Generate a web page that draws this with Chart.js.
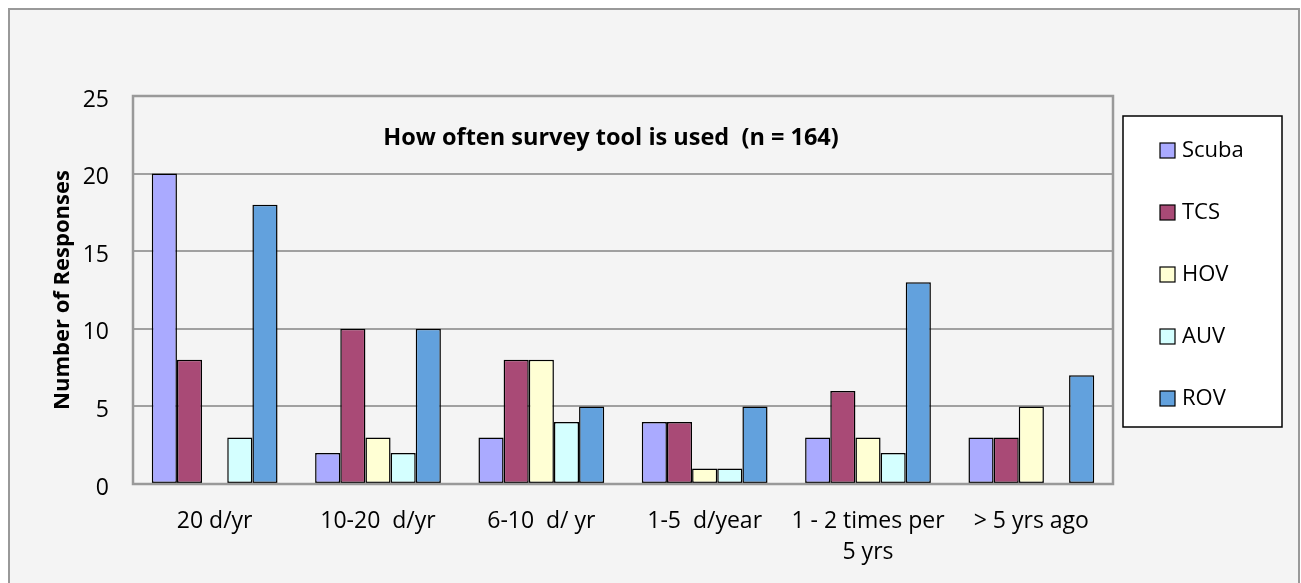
<!DOCTYPE html>
<html lang="en">
<head>
    <meta charset="UTF-8">
    <title>How often survey tool is used</title>
    <script src="https://cdn.jsdelivr.net/npm/chart.js@4.4.1/dist/chart.umd.min.js"></script>
    <style>
        body { margin: 0; background: #ffffff; }
        #wrap { width: 1301px; height: 583px; }
    </style>
</head>
<body>
<div id="wrap"><canvas id="myChart" width="1301" height="583"></canvas></div>
<script>
    const categories = ['20 d/yr', '10-20  d/yr', '6-10  d/ yr', '1-5  d/year', ['1 - 2 times per', '5 yrs'], '> 5 yrs ago'];
    const seriesNames = ['Scuba', 'TCS', 'HOV', 'AUV', 'ROV'];
    const scuba = [20, 2, 3, 4, 3, 3];
    const tcs = [8, 10, 8, 4, 6, 3];
    const hov = [0, 3, 8, 1, 3, 5];
    const auv = [3, 2, 4, 1, 2, 0];
    const rov = [18, 10, 5, 5, 13, 7];
    const colors = ['#aaaaff', '#a94a76', '#ffffd4', '#d4ffff', '#62a1dd'];
    const yTicks = [0, 5, 10, 15, 20, 25];
    const chartTitle = 'How often survey tool is used  (n = 164)';

    const seriesValues = [scuba, tcs, hov, auv, rov];
    const datasets = seriesNames.map(function (name, i) {
        return {
            label: name,
            data: seriesValues[i],
            backgroundColor: colors[i],
            borderColor: '#000000',
            borderWidth: 1.5,
            borderSkipped: false,
            categoryPercentage: 0.77,
            barPercentage: 1.0
        };
    });

    // page frame, plot frame, title and legend box
    const framePlugin = {
        id: 'frame',
        beforeDraw(chart) {
            const ctx = chart.ctx;
            ctx.save();
            ctx.fillStyle = '#f4f4f4';
            ctx.fillRect(8, 8, chart.width - 10, chart.height);
            ctx.strokeStyle = '#999999';
            ctx.lineWidth = 2;
            ctx.beginPath();
            ctx.moveTo(9, chart.height);
            ctx.lineTo(9, 9);
            ctx.lineTo(chart.width - 2, 9);
            ctx.lineTo(chart.width - 2, chart.height);
            ctx.stroke();
            ctx.restore();
        },
        afterDatasetsDraw(chart) {
            const ctx = chart.ctx;
            const a = chart.chartArea;
            ctx.save();
            ctx.strokeStyle = '#999999';
            ctx.lineWidth = 2.5;
            ctx.strokeRect(a.left, a.top, a.right - a.left, a.bottom - a.top);
            ctx.fillStyle = '#000000';
            ctx.font = 'bold 23.5px "Open Sans"';
            ctx.textAlign = 'center';
            ctx.textBaseline = 'middle';
            ctx.fillText(chartTitle, (a.left + a.right) / 2 - 12, a.top + 42);
            const lx = a.right + 10, ly = a.top + 20;
            ctx.fillStyle = '#ffffff';
            ctx.fillRect(lx, ly, 159, 311);
            ctx.strokeStyle = '#000000';
            ctx.lineWidth = 1.5;
            ctx.strokeRect(lx, ly, 159, 311);
            ctx.font = '22px "Open Sans"';
            ctx.textAlign = 'left';
            chart.data.datasets.forEach(function (ds, i) {
                const y = ly + 34 + i * 62;
                ctx.fillStyle = ds.backgroundColor;
                ctx.fillRect(lx + 37, y - 7, 15, 15);
                ctx.strokeStyle = '#000000';
                ctx.lineWidth = 1.2;
                ctx.strokeRect(lx + 37, y - 7, 15, 15);
                ctx.fillStyle = '#000000';
                ctx.fillText(ds.label, lx + 59, y + 1);
            });
            ctx.restore();
        }
    };

    const ctx = document.getElementById('myChart').getContext('2d');
    const myChart = new Chart(ctx, {
        type: 'bar',
        data: { labels: categories, datasets: datasets },
        options: {
            responsive: false,
            animation: false,
            layout: { padding: { top: 96, right: 188, left: 0, bottom: 0 } },
            plugins: {
                legend: { display: false },
                title: { display: false },
                tooltip: { enabled: false }
            },
            scales: {
                x: {
                    grid: { display: false, drawTicks: false },
                    border: { display: false },
                    ticks: {
                        color: '#000000',
                        padding: 22,
                        maxRotation: 0,
                        autoSkip: false,
                        font: { family: 'Open Sans', size: 23, lineHeight: 1.35 }
                    },
                    afterFit(scale) { scale.height = 583 - 96 - 388; }
                },
                y: {
                    min: 0,
                    max: 25,
                    afterBuildTicks(scale) { scale.ticks = yTicks.map(v => ({ value: v })); },
                    grid: { color: '#a0a0a0', lineWidth: 2, drawTicks: false },
                    border: { display: false },
                    ticks: {
                        color: '#000000',
                        padding: 24,
                        labelOffset: 4,
                        font: { family: 'Open Sans', size: 23 }
                    },
                    title: {
                        display: true,
                        text: 'Number of Responses',
                        color: '#000000',
                        font: { family: 'Open Sans', size: 22, weight: 'bold' },
                        padding: { top: 50, bottom: 0 }
                    },
                    afterFit(scale) { scale.width = 133; }
                }
            }
        },
        plugins: [framePlugin]
    });
</script>
</body>
</html>
